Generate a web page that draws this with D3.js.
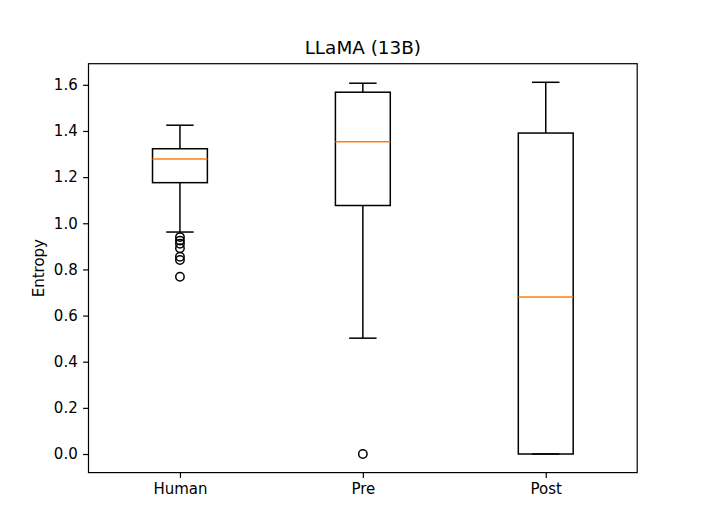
<!DOCTYPE html>
<html>
<head>
<meta charset="utf-8">
<script src="https://cdn.jsdelivr.net/npm/d3@7"></script>
<style>
html,body{margin:0;padding:0;background:#fff;}
svg{display:block;}
text{font-family:"DejaVu Sans",sans-serif;fill:#000;}
</style>
</head>
<body>
<svg id="chart" width="708" height="531"></svg>
<script>
// Data
const categories = ["Human", "Pre", "Post"];
const whiskerLow  = [0.962, 0.502, 0.0];
const q1          = [1.176, 1.077, 0.0];
const median      = [1.278, 1.353, 0.681];
const q3          = [1.323, 1.568, 1.391];
const whiskerHigh = [1.425, 1.607, 1.611];
const outliers    = [
  [0.940, 0.925, 0.911, 0.892, 0.855, 0.841, 0.768],
  [0.0],
  []
];
const yTicks = [0.0, 0.2, 0.4, 0.6, 0.8, 1.0, 1.2, 1.4, 1.6];
const title = "LLaMA (13B)";
const yLabel = "Entropy";

const mLeft = 88.5, mRight = 637.2, mTop = 63.7, mBottom = 472.6;
const svg = d3.select("#chart");

const allVals = whiskerLow.concat(whiskerHigh, outliers.flat());
const dmin = d3.min(allVals), dmax = d3.max(allVals);
const pad = (dmax - dmin) * 0.05;
const y = d3.scaleLinear().domain([dmin - pad, dmax + pad]).range([mBottom, mTop]);
const x = d3.scaleLinear().domain([0.5, categories.length + 0.5]).range([mLeft, mRight]);

const boxW = 0.3, capW = 0.15;
const lw = 1.5;

const g = svg.append("g");
categories.forEach((c, i) => {
  const p = i + 1;
  const gb = g.append("g");
  gb.append("line").attr("x1", x(p)).attr("x2", x(p)).attr("y1", y(q1[i])).attr("y2", y(whiskerLow[i]))
    .attr("stroke", "#000").attr("stroke-width", lw);
  gb.append("line").attr("x1", x(p)).attr("x2", x(p)).attr("y1", y(q3[i])).attr("y2", y(whiskerHigh[i]))
    .attr("stroke", "#000").attr("stroke-width", lw);
  [whiskerLow[i], whiskerHigh[i]].forEach(v => {
    gb.append("line").attr("x1", x(p - capW / 2)).attr("x2", x(p + capW / 2)).attr("y1", y(v)).attr("y2", y(v))
      .attr("stroke", "#000").attr("stroke-width", lw);
  });
  gb.append("rect").attr("x", x(p - boxW / 2)).attr("y", y(q3[i]))
    .attr("width", x(p + boxW / 2) - x(p - boxW / 2)).attr("height", y(q1[i]) - y(q3[i]))
    .attr("fill", "none").attr("stroke", "#000").attr("stroke-width", lw);
  gb.append("line").attr("x1", x(p - boxW / 2)).attr("x2", x(p + boxW / 2)).attr("y1", y(median[i])).attr("y2", y(median[i]))
    .attr("stroke", "#ff7f0e").attr("stroke-width", lw);
  gb.selectAll("circle.o").data(outliers[i]).enter().append("circle")
    .attr("cx", x(p)).attr("cy", d => y(d)).attr("r", 4.2)
    .attr("fill", "none").attr("stroke", "#000").attr("stroke-width", lw);
});

const fs = 15;
const yAxis = d3.axisLeft(y).tickValues(yTicks).tickFormat(d3.format(".1f")).tickSize(5.4).tickPadding(5.4);
const ya = svg.append("g").attr("transform", `translate(${mLeft},0)`).call(yAxis);
const xAxis = d3.axisBottom(x).tickValues(categories.map((c, i) => i + 1)).tickFormat((d, i) => categories[i]).tickSize(5.4).tickPadding(5.4);
const xa = svg.append("g").attr("transform", `translate(0,${mBottom})`).call(xAxis);
[ya, xa].forEach(a => {
  a.select(".domain").remove();
  a.selectAll(".tick line").attr("stroke", "#000").attr("stroke-width", 1.2);
  a.selectAll(".tick text").style("font-family", "DejaVu Sans").style("font-size", fs + "px").attr("fill", "#000");
});

svg.append("rect").attr("x", mLeft).attr("y", mTop).attr("width", mRight - mLeft).attr("height", mBottom - mTop)
  .attr("fill", "none").attr("stroke", "#000").attr("stroke-width", 1.2);

svg.append("text").attr("x", (mLeft + mRight) / 2).attr("y", mTop - 9.5).attr("text-anchor", "middle")
  .style("font-size", "18.4px").text(title);

svg.append("text").attr("transform", `translate(44,${(mTop + mBottom) / 2}) rotate(-90)`)
  .attr("text-anchor", "middle").style("font-size", fs + "px").text(yLabel);
</script>
</body>
</html>
